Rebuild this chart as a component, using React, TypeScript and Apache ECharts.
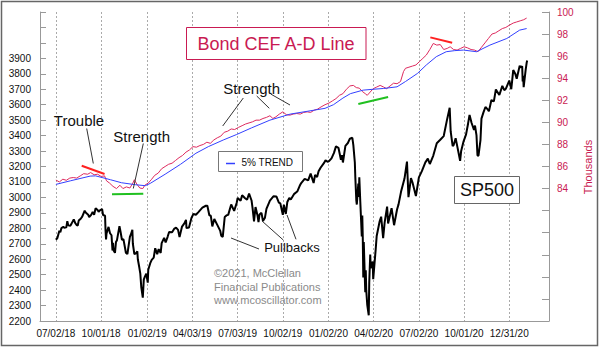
import React, { useEffect, useRef } from 'react';
import * as echarts from 'echarts';

// ---------- data ----------
const xTickDates = ['2018-07-02', '2018-10-01', '2019-01-02', '2019-04-03', '2019-07-03', '2019-10-02', '2020-01-02', '2020-04-02', '2020-07-02', '2020-10-01', '2020-12-31'];
const xRange = ['2018-05-31', '2021-03-21'];
const spAxis = { min: 2200, max: 4200, interval: 100, lastLabel: 3900 };
const adAxis = { min: 72, max: 100, interval: 2, firstLabel: 84 };

const sp500: [string, number][] = [
  ['2018-07-02', 2726], ['2018-07-05', 2737], ['2018-07-09', 2784], ['2018-07-11', 2774], ['2018-07-13', 2801], ['2018-07-17', 2809], ['2018-07-19', 2804], ['2018-07-23', 2806], ['2018-07-25', 2846], ['2018-07-27', 2819], ['2018-07-31', 2816], ['2018-08-02', 2827], ['2018-08-07', 2858], ['2018-08-10', 2833], ['2018-08-13', 2821], ['2018-08-15', 2818], ['2018-08-17', 2850], ['2018-08-21', 2862], ['2018-08-24', 2875], ['2018-08-29', 2914], ['2018-08-31', 2902], ['2018-09-05', 2888], ['2018-09-07', 2872], ['2018-09-11', 2887], ['2018-09-14', 2905], ['2018-09-17', 2888], ['2018-09-20', 2930], ['2018-09-24', 2919], ['2018-09-26', 2906], ['2018-09-28', 2914], ['2018-10-03', 2925], ['2018-10-05', 2886], ['2018-10-09', 2881], ['2018-10-10', 2785], ['2018-10-11', 2728], ['2018-10-12', 2767], ['2018-10-16', 2809], ['2018-10-19', 2768], ['2018-10-22', 2755], ['2018-10-24', 2656], ['2018-10-25', 2706], ['2018-10-26', 2658], ['2018-10-29', 2641], ['2018-10-31', 2712], ['2018-11-02', 2723], ['2018-11-07', 2814], ['2018-11-09', 2781], ['2018-11-12', 2726], ['2018-11-15', 2730], ['2018-11-20', 2642], ['2018-11-23', 2633], ['2018-11-28', 2744], ['2018-11-30', 2760], ['2018-12-03', 2790], ['2018-12-04', 2700], ['2018-12-07', 2633], ['2018-12-10', 2638], ['2018-12-13', 2651], ['2018-12-14', 2600], ['2018-12-17', 2546], ['2018-12-19', 2507], ['2018-12-21', 2417], ['2018-12-24', 2351], ['2018-12-26', 2468], ['2018-12-28', 2486], ['2018-12-31', 2507],
  ['2019-01-03', 2448], ['2019-01-04', 2532], ['2019-01-08', 2574], ['2019-01-11', 2596], ['2019-01-15', 2610], ['2019-01-18', 2671], ['2019-01-22', 2633], ['2019-01-25', 2665], ['2019-01-29', 2640], ['2019-01-31', 2704], ['2019-02-05', 2738], ['2019-02-08', 2708], ['2019-02-12', 2745], ['2019-02-15', 2776], ['2019-02-21', 2775], ['2019-02-25', 2796], ['2019-03-01', 2804], ['2019-03-05', 2790], ['2019-03-08', 2743], ['2019-03-13', 2811], ['2019-03-18', 2833], ['2019-03-21', 2855], ['2019-03-22', 2801], ['2019-03-27', 2805], ['2019-04-01', 2867], ['2019-04-05', 2893], ['2019-04-10', 2888], ['2019-04-15', 2905], ['2019-04-23', 2934], ['2019-04-30', 2946], ['2019-05-03', 2946], ['2019-05-07', 2884], ['2019-05-10', 2881], ['2019-05-13', 2812], ['2019-05-17', 2860], ['2019-05-23', 2822], ['2019-05-29', 2783], ['2019-05-31', 2752], ['2019-06-03', 2744], ['2019-06-07', 2873], ['2019-06-11', 2885], ['2019-06-14', 2887], ['2019-06-20', 2954], ['2019-06-26', 2913], ['2019-07-01', 2964], ['2019-07-03', 2996], ['2019-07-09', 2979], ['2019-07-12', 3014], ['2019-07-18', 2995], ['2019-07-22', 2985], ['2019-07-26', 3025], ['2019-07-31', 2980], ['2019-08-02', 2932], ['2019-08-05', 2844], ['2019-08-08', 2938], ['2019-08-12', 2883], ['2019-08-14', 2840], ['2019-08-16', 2889], ['2019-08-20', 2900], ['2019-08-23', 2847], ['2019-08-27', 2869], ['2019-08-30', 2926], ['2019-09-06', 2979], ['2019-09-13', 3007], ['2019-09-19', 3006], ['2019-09-24', 2966], ['2019-09-27', 2961], ['2019-10-02', 2887], ['2019-10-04', 2952], ['2019-10-08', 2893], ['2019-10-11', 2970], ['2019-10-15', 2996], ['2019-10-18', 2986], ['2019-10-25', 3023], ['2019-10-31', 3038], ['2019-11-05', 3075], ['2019-11-08', 3093], ['2019-11-15', 3120], ['2019-11-22', 3110], ['2019-11-27', 3154], ['2019-12-03', 3093], ['2019-12-06', 3146], ['2019-12-10', 3132], ['2019-12-13', 3169], ['2019-12-17', 3192], ['2019-12-24', 3223], ['2019-12-27', 3240], ['2019-12-31', 3231],
  ['2020-01-03', 3235], ['2020-01-08', 3253], ['2020-01-13', 3288], ['2020-01-17', 3330], ['2020-01-22', 3321], ['2020-01-27', 3244], ['2020-01-29', 3273], ['2020-01-31', 3226], ['2020-02-05', 3334], ['2020-02-10', 3352], ['2020-02-14', 3380], ['2020-02-19', 3386], ['2020-02-21', 3338], ['2020-02-24', 3226], ['2020-02-25', 3128], ['2020-02-27', 2979], ['2020-02-28', 2954], ['2020-03-02', 3090], ['2020-03-03', 3003], ['2020-03-04', 3130], ['2020-03-06', 2972], ['2020-03-09', 2747], ['2020-03-10', 2882], ['2020-03-11', 2741], ['2020-03-12', 2481], ['2020-03-13', 2711], ['2020-03-16', 2386], ['2020-03-17', 2529], ['2020-03-18', 2398], ['2020-03-20', 2305], ['2020-03-23', 2237], ['2020-03-24', 2447], ['2020-03-26', 2630], ['2020-03-27', 2541], ['2020-03-31', 2585], ['2020-04-01', 2471], ['2020-04-06', 2664], ['2020-04-08', 2750], ['2020-04-14', 2846], ['2020-04-17', 2875], ['2020-04-21', 2737], ['2020-04-24', 2837], ['2020-04-29', 2940], ['2020-05-01', 2831], ['2020-05-08', 2930], ['2020-05-13', 2820], ['2020-05-19', 2922], ['2020-05-22', 2955], ['2020-05-27', 3036], ['2020-06-03', 3122], ['2020-06-08', 3232], ['2020-06-11', 3002], ['2020-06-16', 3125], ['2020-06-19', 3098], ['2020-06-26', 3009], ['2020-07-02', 3130], ['2020-07-08', 3170], ['2020-07-15', 3227], ['2020-07-20', 3251], ['2020-07-24', 3216], ['2020-07-31', 3271], ['2020-08-07', 3351], ['2020-08-14', 3373], ['2020-08-21', 3397], ['2020-08-28', 3508], ['2020-09-02', 3580], ['2020-09-04', 3427], ['2020-09-08', 3332], ['2020-09-10', 3339], ['2020-09-14', 3383], ['2020-09-18', 3319], ['2020-09-23', 3237], ['2020-09-25', 3298], ['2020-09-30', 3363], ['2020-10-05', 3408], ['2020-10-09', 3477], ['2020-10-12', 3534], ['2020-10-16', 3483], ['2020-10-21', 3436], ['2020-10-23', 3465], ['2020-10-26', 3401], ['2020-10-28', 3271], ['2020-10-30', 3270], ['2020-11-03', 3370], ['2020-11-05', 3510], ['2020-11-09', 3550], ['2020-11-13', 3585], ['2020-11-18', 3568], ['2020-11-20', 3557], ['2020-11-25', 3630], ['2020-11-30', 3622], ['2020-12-04', 3699], ['2020-12-09', 3673], ['2020-12-11', 3663], ['2020-12-17', 3722], ['2020-12-21', 3694], ['2020-12-24', 3703], ['2020-12-31', 3756],
  ['2021-01-04', 3700], ['2021-01-08', 3824], ['2021-01-12', 3801], ['2021-01-15', 3768], ['2021-01-21', 3853], ['2021-01-22', 3841], ['2021-01-26', 3849], ['2021-01-27', 3750], ['2021-01-28', 3787], ['2021-01-29', 3714], ['2021-02-02', 3826], ['2021-02-04', 3871], ['2021-02-05', 3886],
];

// Bond CEF A-D line, thousands
const adLine: [string, number][] = [
  ['2018-07-02', 84.77], ['2018-07-09', 84.6], ['2018-07-16', 84.85], ['2018-07-23', 84.75], ['2018-07-30', 84.95], ['2018-08-06', 85.0], ['2018-08-13', 84.95], ['2018-08-20', 85.15], ['2018-08-27', 85.35], ['2018-09-04', 85.3], ['2018-09-10', 85.45], ['2018-09-17', 85.25], ['2018-09-24', 85.3], ['2018-10-01', 85.1], ['2018-10-08', 85.15], ['2018-10-12', 84.7], ['2018-10-18', 84.5], ['2018-10-25', 84.2], ['2018-11-01', 84.0], ['2018-11-08', 84.3], ['2018-11-14', 84.0], ['2018-11-21', 84.15], ['2018-11-28', 84.05], ['2018-12-04', 84.5], ['2018-12-07', 84.8], ['2018-12-12', 84.4], ['2018-12-18', 84.05], ['2018-12-24', 84.0], ['2018-12-28', 84.3],
  ['2019-01-04', 84.5], ['2019-01-10', 84.8], ['2019-01-17', 85.2], ['2019-01-24', 85.4], ['2019-01-31', 85.8], ['2019-02-07', 86.0], ['2019-02-14', 86.2], ['2019-02-21', 86.3], ['2019-02-28', 86.55], ['2019-03-07', 86.8], ['2019-03-14', 87.0], ['2019-03-21', 87.3], ['2019-03-28', 87.5], ['2019-04-04', 87.8], ['2019-04-11', 87.75], ['2019-04-18', 87.9], ['2019-04-25', 88.0], ['2019-05-02', 88.2], ['2019-05-09', 88.1], ['2019-05-16', 88.4], ['2019-05-23', 88.6], ['2019-05-30', 88.75], ['2019-06-06', 89.1], ['2019-06-13', 89.2], ['2019-06-20', 89.4], ['2019-06-27', 89.35], ['2019-07-05', 89.55], ['2019-07-12', 89.7], ['2019-07-19', 89.85], ['2019-07-26', 89.95], ['2019-08-02', 90.05], ['2019-08-09', 90.2], ['2019-08-16', 90.2], ['2019-08-23', 90.35], ['2019-08-30', 90.45], ['2019-09-06', 90.6], ['2019-09-12', 90.35], ['2019-09-18', 90.5], ['2019-09-25', 90.75], ['2019-10-02', 90.95], ['2019-10-09', 90.7], ['2019-10-16', 90.65], ['2019-10-23', 90.75], ['2019-10-30', 90.8], ['2019-11-06', 90.75], ['2019-11-13', 90.9], ['2019-11-20', 90.95], ['2019-11-27', 90.9], ['2019-12-04', 91.1], ['2019-12-11', 91.2], ['2019-12-18', 91.4], ['2019-12-26', 91.6],
  ['2020-01-03', 91.75], ['2020-01-10', 91.95], ['2020-01-17', 92.15], ['2020-01-24', 92.45], ['2020-01-31', 92.6], ['2020-02-07', 93.0], ['2020-02-14', 93.3], ['2020-02-21', 93.35], ['2020-02-27', 93.15], ['2020-03-04', 93.1], ['2020-03-10', 92.8], ['2020-03-16', 92.6], ['2020-03-20', 92.45], ['2020-03-26', 92.75], ['2020-04-01', 93.05], ['2020-04-08', 93.2], ['2020-04-15', 93.35], ['2020-04-22', 93.2], ['2020-04-28', 93.05], ['2020-05-05', 93.3], ['2020-05-12', 93.55], ['2020-05-19', 93.5], ['2020-05-26', 93.7], ['2020-06-01', 94.6], ['2020-06-05', 94.9], ['2020-06-12', 95.0], ['2020-06-19', 95.1], ['2020-06-26', 95.2], ['2020-07-03', 95.5], ['2020-07-10', 95.8], ['2020-07-17', 96.1], ['2020-07-24', 96.6], ['2020-07-31', 97.15], ['2020-08-07', 97.0], ['2020-08-14', 97.05], ['2020-08-21', 96.6], ['2020-08-28', 96.7], ['2020-09-03', 96.85], ['2020-09-10', 96.6], ['2020-09-17', 96.55], ['2020-09-24', 96.7], ['2020-10-01', 96.85], ['2020-10-08', 96.75], ['2020-10-15', 96.6], ['2020-10-22', 96.55], ['2020-10-29', 96.4], ['2020-11-05', 96.8], ['2020-11-12', 97.2], ['2020-11-19', 97.6], ['2020-11-26', 98.0], ['2020-12-03', 98.1], ['2020-12-10', 98.3], ['2020-12-17', 98.5], ['2020-12-24', 98.6], ['2020-12-31', 98.8],
  ['2021-01-08', 99.0], ['2021-01-15', 99.1], ['2021-01-22', 99.2], ['2021-01-29', 99.3], ['2021-02-04', 99.45],
];

// 5% trend of the A-D line, thousands
const trend5: [string, number][] = [
  ['2018-07-02', 84.38], ['2018-07-31', 84.7], ['2018-09-09', 85.13], ['2018-09-20', 85.15], ['2018-10-03', 85.0], ['2018-10-20', 84.8], ['2018-11-11', 84.53], ['2018-12-09', 84.35], ['2018-12-29', 84.26],
  ['2019-01-08', 84.47], ['2019-02-07', 85.3], ['2019-03-10', 86.2], ['2019-04-10', 87.2], ['2019-05-05', 87.8], ['2019-06-04', 88.4], ['2019-07-01', 88.9], ['2019-07-31', 89.5], ['2019-09-06', 90.2], ['2019-10-17', 90.75], ['2019-11-20', 91.0], ['2019-12-26', 91.27],
  ['2020-01-12', 91.6], ['2020-01-31', 92.2], ['2020-02-15', 92.6], ['2020-03-06', 92.85], ['2020-03-12', 92.92], ['2020-04-01', 93.0], ['2020-04-22', 93.07], ['2020-05-19', 93.22], ['2020-06-05', 93.7], ['2020-06-29', 94.43], ['2020-07-17', 95.2], ['2020-08-06', 95.95], ['2020-08-26', 96.4], ['2020-09-12', 96.5], ['2020-09-30', 96.55], ['2020-10-26', 96.4], ['2020-11-22', 97.0], ['2020-12-26', 97.6],
  ['2021-01-21', 98.36], ['2021-02-04', 98.5],
];

// annotation segments on the A-D line (date, thousands)
const redSegments: [[string, number], [string, number]][] = [
  [['2018-08-23', 86.07], ['2018-10-08', 85.32]],
  [['2020-07-25', 97.7], ['2020-09-07', 97.21]],
];
const greenSegments: [[string, number], [string, number]][] = [
  [['2018-10-23', 83.48], ['2018-12-25', 83.53]],
  [['2020-03-02', 91.66], ['2020-05-01', 92.29]],
];

// ---------- helpers ----------
const ts = (s: string) => {
  const [y, m, d] = s.split('-').map(Number);
  return new Date(y, m - 1, d).getTime();
};
const pad = (n: number) => (n < 10 ? '0' + n : '' + n);
const fmtDate = (v: number) => {
  const d = new Date(v);
  return pad(d.getMonth() + 1) + '/' + pad(d.getDate()) + '/' + pad(d.getFullYear() % 100);
};

const FONT = '"Liberation Sans", Arial, sans-serif';
const CRIMSON = '#c91a52';

const txt = (x: number, y: number, text: string, size: number, fill: string, align = 'center') => ({
  type: 'text', x, y, z: 20,
  style: { text, font: `${size}px ${FONT}`, fill, align, verticalAlign: 'middle', textAlign: align, textVerticalAlign: 'middle' },
});
const seg = (x1: number, y1: number, x2: number, y2: number, stroke = '#333', lineWidth = 1) => ({
  type: 'line', z: 20, shape: { x1, y1, x2, y2 }, style: { stroke, lineWidth },
});

export default function App() {
  const ref = useRef<HTMLDivElement>(null);
  useEffect(() => {
    if (!ref.current) return;
    const chart = echarts.init(ref.current, undefined, { renderer: 'svg' });
    const tickVals = xTickDates.map(ts);
    const markData = [
      ...redSegments.map(([a, b]) => [
        { coord: [ts(a[0]), a[1]], lineStyle: { color: '#ff2020', width: 2, type: 'solid' } },
        { coord: [ts(b[0]), b[1]] },
      ]),
      ...greenSegments.map(([a, b]) => [
        { coord: [ts(a[0]), a[1]], lineStyle: { color: '#20c020', width: 2, type: 'solid' } },
        { coord: [ts(b[0]), b[1]] },
      ]),
    ];
    chart.setOption({
      animation: false,
      backgroundColor: '#fff',
      grid: { left: 40, right: 51, top: 12, bottom: 26 },
      xAxis: {
        type: 'value',
        min: ts(xRange[0]),
        max: ts(xRange[1]),
        axisLine: { show: true, lineStyle: { color: '#999', width: 1 } },
        axisTick: { show: false, customValues: tickVals },
        axisLabel: { customValues: tickVals, formatter: (v: number) => fmtDate(v), color: '#111', fontSize: 10, fontFamily: FONT, margin: 7 },
        splitLine: { show: true, lineStyle: { color: '#aaa', width: 1, type: [2, 2] } },
      },
      yAxis: [
        {
          type: 'value', position: 'left',
          min: spAxis.min, max: spAxis.max, interval: spAxis.interval,
          axisLine: { show: true, lineStyle: { color: '#999' } },
          axisTick: { show: true, inside: true, length: 6, lineStyle: { color: '#999' } },
          axisLabel: { formatter: (v: number) => (v <= spAxis.lastLabel ? String(v) : ''), color: '#111', fontSize: 10, fontFamily: FONT, margin: 9 },
          splitLine: { show: false },
        },
        {
          type: 'value', position: 'right',
          min: adAxis.min, max: adAxis.max, interval: adAxis.interval,
          alignTicks: false,
          axisLine: { show: true, lineStyle: { color: '#999' } },
          axisTick: { show: true, inside: true, length: 7, lineStyle: { color: '#999' } },
          axisLabel: { formatter: (v: number) => (v >= adAxis.firstLabel ? String(v) : ''), color: CRIMSON, fontSize: 10, fontFamily: FONT, margin: 8 },
          splitLine: { show: false },
        },
      ],
      series: [
        {
          type: 'line', name: 'SP500', yAxisIndex: 0, symbol: 'none', z: 3,
          data: sp500.map(([d, v]) => [ts(d), v]),
          lineStyle: { color: '#000', width: 2 },
        },
        {
          type: 'line', name: 'Bond CEF A-D Line', yAxisIndex: 1, symbol: 'none', z: 4,
          data: adLine.map(([d, v]) => [ts(d), v]),
          lineStyle: { color: '#dd2a5e', width: 1 },
          markLine: { silent: true, symbol: ['none', 'none'], label: { show: false }, animation: false, data: markData },
        },
        {
          type: 'line', name: '5% TREND', yAxisIndex: 1, symbol: 'none', z: 4,
          data: trend5.map(([d, v]) => [ts(d), v]),
          lineStyle: { color: '#3340ff', width: 1 },
        },
      ],
      graphic: [
        { type: 'rect', z: 30, shape: { x: 1.5, y: 1.5, width: 596, height: 344 }, style: { fill: 'none', stroke: '#666', lineWidth: 1.5 } },
        { type: 'rect', z: 19, shape: { x: 186.5, y: 27.5, width: 179.5, height: 32 }, style: { fill: '#fff', stroke: CRIMSON, lineWidth: 1 } },
        txt(276, 43.5, 'Bond CEF A-D Line', 18, CRIMSON),
        { type: 'rect', z: 19, shape: { x: 454.5, y: 176.5, width: 65, height: 27 }, style: { fill: '#fff', stroke: '#666', lineWidth: 1 } },
        txt(487, 190, 'SP500', 18, '#111'),
        { type: 'rect', z: 19, shape: { x: 218.5, y: 151.5, width: 84, height: 20 }, style: { fill: '#fff', stroke: '#777', lineWidth: 1 } },
        seg(226, 163.5, 235, 163.5, '#3340ff', 1.5),
        txt(241.5, 162, '5% TREND', 10, '#111', 'left'),
        { type: 'text', x: 588, y: 167, rotation: Math.PI / 2, z: 20, style: { text: 'Thousands', font: `11px ${FONT}`, fill: CRIMSON, align: 'center', verticalAlign: 'middle', textAlign: 'center', textVerticalAlign: 'middle' } },
        txt(79, 120, 'Trouble', 15, '#111'),
        seg(86.7, 128.5, 93.3, 163.5),
        txt(141.7, 136, 'Strength', 15, '#111'),
        seg(143.3, 143.5, 133.3, 188.5),
        txt(251.7, 88, 'Strength', 15, '#111'),
        seg(243.3, 98, 222.7, 126),
        seg(256.7, 96, 269.3, 108.3),
        seg(270.7, 94, 290, 105),
        txt(292, 247.5, 'Pullbacks', 13, '#111'),
        seg(259, 249, 231, 238),
        seg(283.3, 240, 262, 221),
        seg(296, 239.3, 287, 215),
        txt(214, 273.3, '©2021, McClellan', 11, '#8a8a8a', 'left'),
        txt(214, 286.7, 'Financial Publications', 11, '#8a8a8a', 'left'),
        txt(214, 300, 'www.mcoscillator.com', 11, '#8a8a8a', 'left'),
      ],
    });
    return () => chart.dispose();
  }, []);
  return <div ref={ref} style={{ position: 'fixed', left: 0, top: 0, width: 600, height: 347 }} />;
}
